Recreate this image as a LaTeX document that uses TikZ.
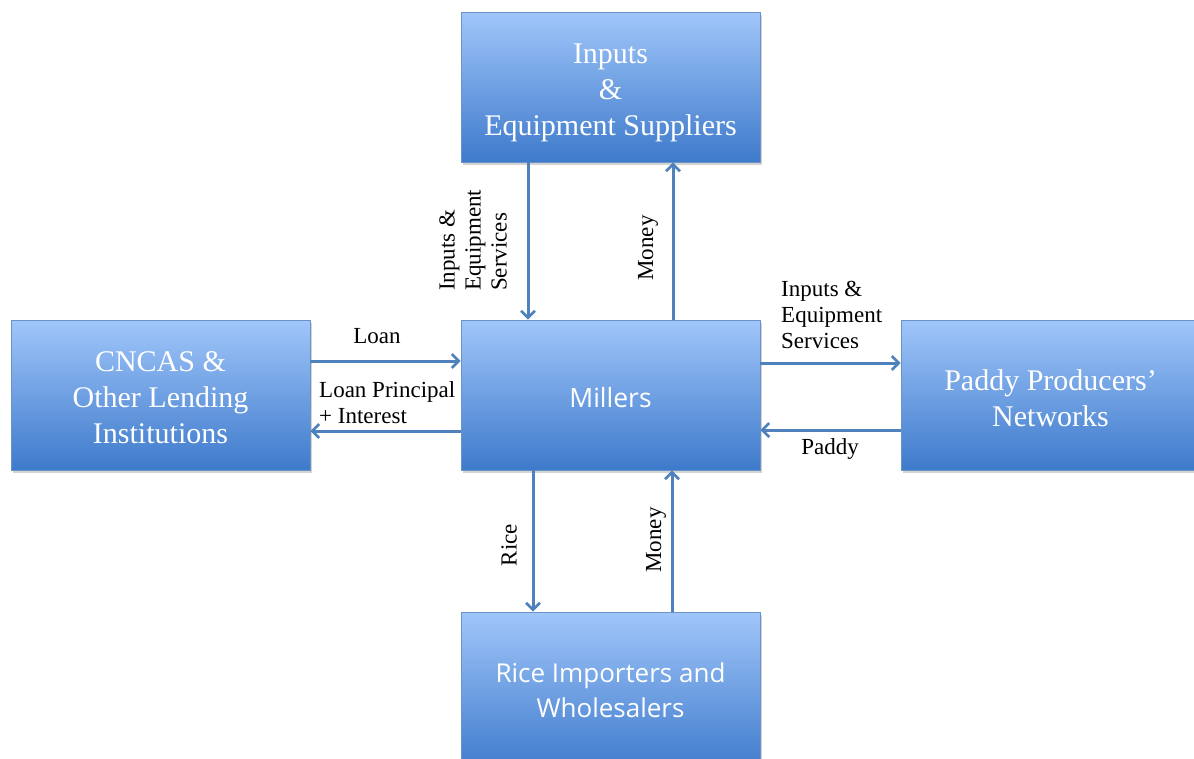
\documentclass[tikz,border=0pt]{standalone}
\usepackage{fontspec}
\setmainfont{Liberation Serif}
\newfontfamily\boxsans{Open Sans}
\usetikzlibrary{shadows,arrows.meta}
\definecolor{flowblue}{RGB}{79,129,189}
\definecolor{boxtop}{RGB}{160,198,250}
\definecolor{boxbot}{RGB}{62,122,203}
\tikzset{
  x=1pt, y=-1pt,
  actor/.style={draw=flowblue!85!white, line width=0.8pt, top color=boxtop, bottom color=boxbot,
    minimum width=299pt, minimum height=150pt, inner sep=0pt,
    drop shadow={shadow xshift=2pt, shadow yshift=-3pt, opacity=0.35}},
  boxtext/.style={text=white, align=center, inner sep=0pt},
  serifbox/.style={boxtext, font=\fontsize{30}{36}\selectfont},
  sansbox/.style={boxtext, font=\boxsans\fontsize{26}{35}\selectfont},
  flow/.style={draw=flowblue, line width=3pt, -{Straight Barb[length=7pt,width=14pt,line width=2.6pt]}},
  lbl/.style={font=\fontsize{23}{26}\selectfont, inner sep=0pt, align=left}
}
\begin{document}
\begin{tikzpicture}
\useasboundingbox (0,0) rectangle (1194,758);
\clip (0,0) rectangle (1194,758);
% boxes
\node[actor] (sup) at (610.5,87) {};
\node[actor] (mil) at (610.5,395) {};
\node[actor] (len) at (160.5,395) {};
\node[actor, minimum width=310pt] (pad) at (1056,395) {};
\node[actor, minimum height=160pt] (ric) at (610.5,692) {};
% box texts
\node[serifbox] (supt) at (610.5,93) {Inputs\\\&\\Equipment Suppliers};
\node[sansbox, font=\boxsans\fontsize{26.5}{32}\selectfont] (milt) at ([yshift=-3pt]mil.center) {Millers};
\node[serifbox] (lent) at ([yshift=-3pt]len.center) {CNCAS \&\\Other Lending\\Institutions};
\node[serifbox] (padt) at (1050.5,398) {Paddy Producers'\\Networks};
\node[sansbox] (rict) at (610.5,690) {Rice Importers and\\Wholesalers};
% connectors
\draw[flow] (sup.south -| 528,0) -- (mil.north -| 528,0);
\draw[flow] (mil.north -| 673,0) -- (sup.south -| 673,0);
\draw[flow] (len.east |- 0,361) -- (mil.west |- 0,361);
\draw[flow] (mil.west |- 0,431) -- (len.east |- 0,431);
\draw[flow] (mil.east |- 0,363) -- (pad.west |- 0,363);
\draw[flow] (pad.west |- 0,430) -- (mil.east |- 0,430);
\draw[flow] (mil.south -| 533,0) -- (ric.north -| 533,0);
\draw[flow] (ric.north -| 672,0) -- (mil.south -| 672,0);
% labels
\node[lbl, rotate=90, anchor=north west] (l1) at (439,291) {Inputs \&\\Equipment\\Services};
\node[lbl, rotate=90] (l2) at (648,248) {Money};
\node[lbl] (l3) at (377,336) {Loan};
\node[lbl, anchor=north west] (l4) at (319,381) {Loan Principal\\+ Interest};
\node[lbl, anchor=north west] (l5) at (781,281) {Inputs \&\\Equipment\\Services};
\node[lbl] (l6) at (830,449) {Paddy};
\node[lbl, rotate=90] (l7) at (509,545) {Rice};
\node[lbl, rotate=90] (l8) at (656,540) {Money};
\end{tikzpicture}
\end{document}
